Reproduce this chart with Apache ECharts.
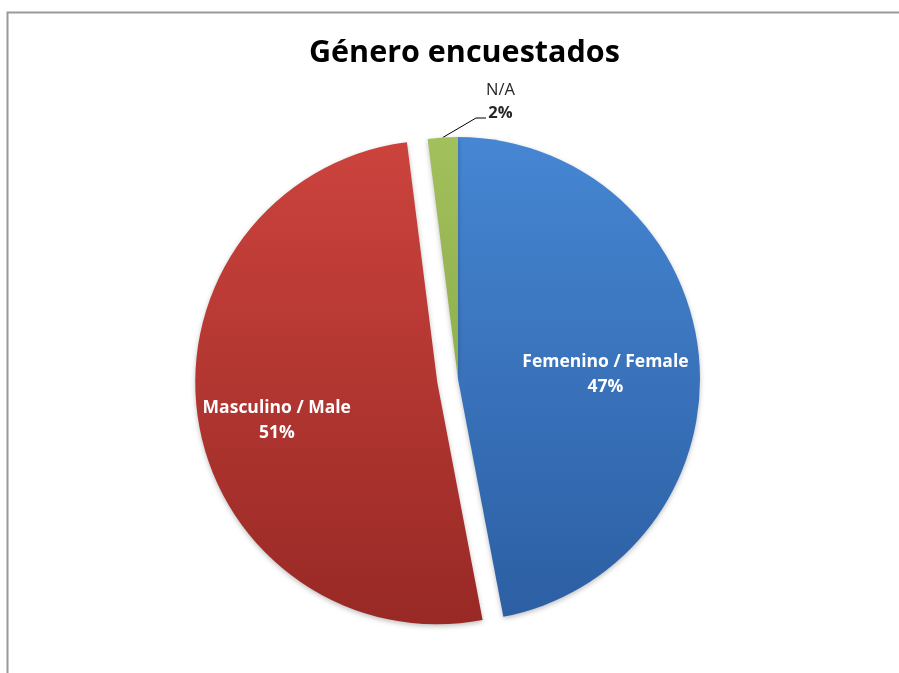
<!DOCTYPE html>
<html>
<head>
<meta charset="utf-8">
<script src="https://cdn.jsdelivr.net/npm/echarts@6/dist/echarts.min.js"></script>
<style>
  html, body { margin: 0; padding: 0; background: #ffffff; }
  #chart { width: 899px; height: 673px; }
</style>
</head>
<body>
<div id="chart"></div>
<script>
// Survey respondents by gender (percent)
const categories = ['Femenino / Female', 'Masculino / Male', 'N/A'];
const shares = [47, 51, 2];
const titleText = 'Género encuestados';

const fills = [
  ['#4686d3', '#2c5fa3'],
  ['#cc433d', '#982925'],
  ['#a2c15c', '#8fae4d']
];

const FONT = '"Open Sans", "Noto Sans", sans-serif';

const chart = echarts.init(document.getElementById('chart'));

const dataItems = categories.map((name, i) => {
  const item = {
    name: name,
    value: shares[i],
    itemStyle: {
      color: new echarts.graphic.LinearGradient(0, 0, 0, 1, [
        { offset: 0, color: fills[i][0] },
        { offset: 1, color: fills[i][1] }
      ])
    }
  };
  if (name === 'Masculino / Male') item.selected = true;
  if (name === 'N/A') {
    // outside label; the empty bottom padding lowers the point where the leader line attaches
    item.label = {
      position: 'outside',
      color: '#262626',
      backgroundColor: 'rgba(255,255,255,0)',
      padding: [0, 0, 32, 0],
      formatter: p => '{n|' + p.name + '}\n{b|' + p.percent.toFixed(0) + '%}',
      rich: {
        n: { fontFamily: FONT, fontSize: 16.5, fontWeight: 'normal', color: '#262626', align: 'center', lineHeight: 23 },
        b: { fontFamily: FONT, fontSize: 16.5, fontWeight: 'bold', color: '#262626', align: 'center', lineHeight: 23 }
      }
    };
    item.labelLine = { show: true, length2: 10, lineStyle: { color: '#000000', width: 1 } };
  }
  return item;
});

// per-slice nudges for label placement
const labelShift = {
  'Femenino / Female': { dx: 24, dy: 7 },
  'Masculino / Male': { dx: -38, dy: 19 }
};

chart.setOption({
  animation: false,
  title: {
    text: titleText,
    left: 304,
    top: 33,
    textStyle: { fontFamily: FONT, fontSize: 30.5, fontWeight: 'bold', color: '#000000' }
  },
  graphic: [{
    type: 'rect',
    shape: { x: 7.5, y: 12.5, width: 900, height: 700 },
    style: { fill: 'none', stroke: '#9a9a9a', lineWidth: 2 },
    silent: true,
    z: -1
  }],
  series: [{
    type: 'pie',
    center: [458, 379],
    radius: [0, 242],
    startAngle: 90,
    clockwise: true,
    selectedMode: 'single',
    selectedOffset: 21,
    avoidLabelOverlap: false,
    itemStyle: {
      shadowBlur: 5,
      shadowColor: 'rgba(0,0,0,0.25)',
      shadowOffsetY: 2
    },
    emphasis: { disabled: true },
    label: {
      show: true,
      position: 'inside',
      color: '#ffffff',
      fontFamily: FONT,
      fontSize: 17.5,
      fontWeight: 'bold',
      lineHeight: 25,
      formatter: p => p.name + '\n' + p.percent.toFixed(0) + '%'
    },
    labelLine: { show: false },
    labelLayout: function (params) {
      const name = categories[params.dataIndex];
      if (name === 'N/A') {
        return { x: 486, y: 79, align: 'left', verticalAlign: 'top' };
      }
      return labelShift[name] || {};
    },
    data: dataItems
  }]
});
</script>
</body>
</html>
